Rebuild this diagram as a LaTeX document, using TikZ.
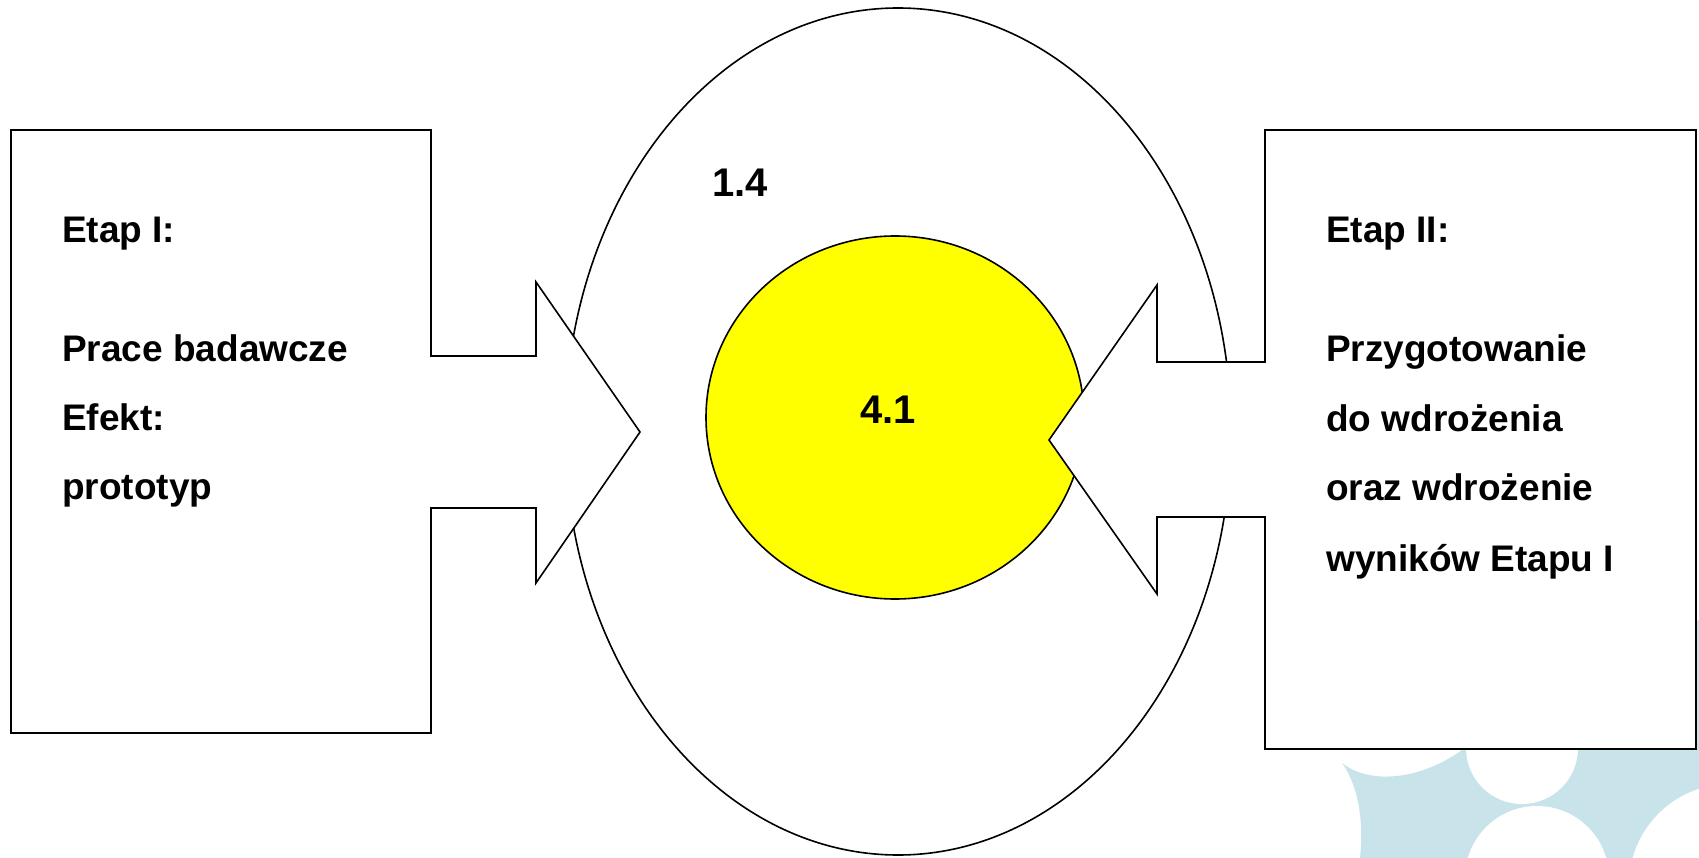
\documentclass[tikz,border=0pt]{standalone}
\usepackage{fontspec}
\setmainfont{Liberation Sans}
\definecolor{deco}{RGB}{200,228,234}
\definecolor{sun}{RGB}{255,255,0}
\tikzset{
  outline/.style={draw=black, line width=1.6pt, line join=miter},
  txt/.style={inner sep=0pt, anchor=base west, font=\fontsize{37}{44}\selectfont\bfseries},
  num/.style={inner sep=0pt, anchor=center, font=\fontsize{40}{48}\selectfont\bfseries}
}
\begin{document}
\begin{tikzpicture}[x=1pt,y=-1pt]
\useasboundingbox (0,0) rectangle (1699,858);
\fill[white] (0,0) rectangle (1699,858);
% background decoration
\fill[deco] (1342,763) .. controls (1370,785) and (1420,780) .. (1462,750)
  -- (1462,700) -- (1699,620) -- (1699,858) -- (1360,858)
  .. controls (1364,820) and (1358,785) .. (1342,763) -- cycle;
\fill[white] (1522,748) circle[radius=56pt];
\fill[white] (1537,878) circle[radius=72pt];
\fill[white] (1730,885) circle[radius=101pt];
% big ellipse
\draw[outline, fill=white] (898,431.5) ellipse[x radius=333pt, y radius=423.5pt];
% yellow circle
\draw[outline, fill=sun] (895,417.5) ellipse[x radius=189pt, y radius=181.5pt];
% left box with arrow
\draw[outline, fill=white] (11,130) -- (431,130) -- (431,356) -- (536,356) -- (536,282)
  -- (640,432) -- (536,583) -- (536,508) -- (431,508) -- (431,733) -- (11,733) -- cycle;
% right box with arrow
\draw[outline, fill=white] (1696,130) -- (1265,130) -- (1265,362) -- (1157,362) -- (1157,285)
  -- (1049,440) -- (1157,594) -- (1157,517) -- (1265,517) -- (1265,749) -- (1696,749) -- cycle;
% texts
\node[num] (n14) at (740,183) {1.4};
\node[num] (n41) at (888,410) {4.1};
\node[txt] (l1) at (62,243) {Etap I:};
\node[txt] (l2) at (62,361) {Prace badawcze};
\node[txt] (l3) at (62,430) {Efekt:};
\node[txt] (l4) at (62,499) {prototyp};
\node[txt] (r1) at (1326,243) {Etap II:};
\node[txt] (r2) at (1326,361) {Przygotowanie};
\node[txt] (r3) at (1326,431) {do wdrożenia};
\node[txt] (r4) at (1326,500) {oraz wdrożenie};
\node[txt] (r5) at (1326,571) {wyników Etapu I};
\end{tikzpicture}
\end{document}
